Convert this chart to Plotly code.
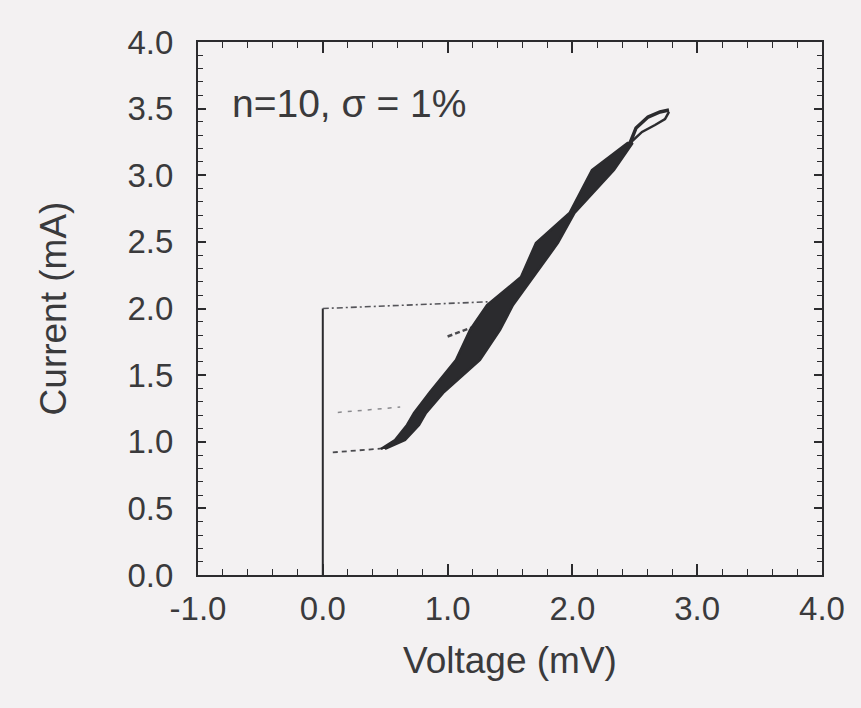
import plotly.graph_objects as go

# Hysteretic I-V characteristic of a series array (n=10, sigma=1%)

# Superconducting branch at zero voltage
v_super = [0.0, 0.0]
i_super = [0.0, 2.00]

# Switching jump to the resistive state
v_switch = [0.0, 1.32]
i_switch = [2.00, 2.05]

# Retrapping steps back toward zero voltage
v_retrap_low = [0.08, 0.48]
i_retrap_low = [0.92, 0.95]
v_retrap_mid = [0.12, 0.62]
i_retrap_mid = [1.22, 1.26]
v_stub = [1.00, 1.20]
i_stub = [1.79, 1.86]

# Resistive branch: spread of the swept curves (left and right edge)
i_band = [0.946, 1.013, 1.126, 1.216, 1.373, 1.614, 1.839, 2.026, 2.236,
          2.492, 2.717, 3.039, 3.242]
v_band_left = [0.466, 0.579, 0.675, 0.731, 0.859, 1.067, 1.180, 1.316,
               1.588, 1.708, 1.977, 2.157, 2.442]
v_band_right = [0.498, 0.659, 0.771, 0.827, 0.971, 1.259, 1.420, 1.524,
                1.684, 1.884, 2.017, 2.333, 2.482]

# Open loop at the top of the sweep
v_loop_upper = [2.462, 2.510, 2.606, 2.702, 2.774]
i_loop_upper = [3.242, 3.355, 3.437, 3.475, 3.490]
v_loop_lower = [2.462, 2.558, 2.662, 2.742, 2.774]
i_loop_lower = [3.242, 3.325, 3.377, 3.422, 3.475]

x_ticks = [-1.0, 0.0, 1.0, 2.0, 3.0, 4.0]
x_tick_text = ["-1.0", "0.0", "1.0", "2.0", "3.0", "4.0"]
y_ticks = [0.0, 0.5, 1.0, 1.5, 2.0, 2.5, 3.0, 3.5, 4.0]
y_tick_text = ["0.0", "0.5", "1.0", "1.5", "2.0", "2.5", "3.0", "3.5", "4.0"]

INK = "#2b2b2e"
TEXT = "#3a3a3c"
PAPER = "#f3f1f2"
FONT = "Liberation Sans, Arial, sans-serif"

fig = go.Figure()

fig.add_trace(go.Scatter(x=v_super, y=i_super, mode="lines",
                         line=dict(color=INK, width=2)))
fig.add_trace(go.Scatter(x=v_switch, y=i_switch, mode="lines",
                         line=dict(color="#55555a", width=1.6, dash="6px,3px,2px,3px")))
fig.add_trace(go.Scatter(x=v_retrap_low, y=i_retrap_low, mode="lines",
                         line=dict(color="#4a4a4e", width=1.8, dash="5px,4px")))
fig.add_trace(go.Scatter(x=v_retrap_mid, y=i_retrap_mid, mode="lines",
                         line=dict(color="#8a8a8e", width=1.5, dash="4px,6px")))
fig.add_trace(go.Scatter(x=v_stub, y=i_stub, mode="lines",
                         line=dict(color="#4a4a4e", width=2.5, dash="5px,3px")))

band_x = v_band_left + v_band_right[::-1]
band_y = i_band + i_band[::-1]
fig.add_trace(go.Scatter(x=band_x, y=band_y, mode="lines", fill="toself",
                         fillcolor=INK, line=dict(color=INK, width=2.5)))
fig.add_trace(go.Scatter(x=v_loop_upper, y=i_loop_upper, mode="lines",
                         line=dict(color=INK, width=3.5)))
fig.add_trace(go.Scatter(x=v_loop_lower, y=i_loop_lower, mode="lines",
                         line=dict(color=INK, width=2.5)))

fig.add_annotation(x=-0.74, y=3.54, xref="x", yref="y", xanchor="left",
                   yanchor="middle", showarrow=False,
                   text="n=10, \u03c3 = 1%",
                   font=dict(family=FONT, size=39, color=TEXT))

axis_common = dict(
    showgrid=False, zeroline=False, showline=True, linecolor=INK,
    linewidth=2, mirror="ticks", ticks="inside", tickcolor=INK,
    tickwidth=1.5,
    tickfont=dict(family=FONT, size=33, color=TEXT),
)

fig.update_xaxes(
    range=[-1, 4], tickvals=x_ticks, ticktext=x_tick_text, ticklen=11,
    minor=dict(dtick=0.2, tick0=-1, ticks="inside", ticklen=6,
               tickcolor=INK, tickwidth=1.2),
    ticklabelstandoff=3,
    title=dict(text="Voltage (mV)", standoff=22,
               font=dict(family=FONT, size=37, color=TEXT)),
    **axis_common,
)
fig.update_yaxes(
    range=[0, 4], tickvals=y_ticks, ticktext=y_tick_text, ticklen=8,
    minor=dict(dtick=0.1, tick0=0, ticks="inside", ticklen=5,
               tickcolor=INK, tickwidth=1.2),
    ticklabelstandoff=16,
    title=dict(text="Current (mA)", standoff=50,
               font=dict(family=FONT, size=37, color=TEXT)),
    **axis_common,
)

fig.update_layout(
    width=861, height=708,
    margin=dict(l=198, r=39, t=42, b=133),
    paper_bgcolor=PAPER, plot_bgcolor=PAPER,
    showlegend=False,
)

fig.write_html("out.html")
